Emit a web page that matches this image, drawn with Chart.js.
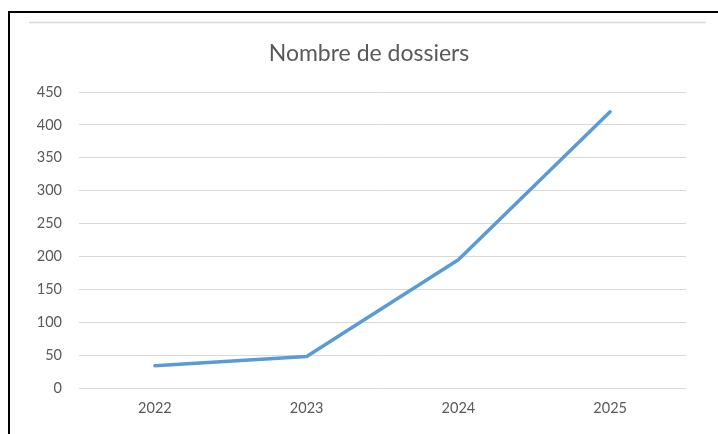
<!DOCTYPE html>
<html>
<head>
<meta charset="utf-8">
<script src="https://cdn.jsdelivr.net/npm/chart.js@4/dist/chart.umd.min.js"></script>
<style>
html,body{margin:0;padding:0;background:#fff;}
#wrap{width:718px;height:434px;position:relative;}
</style>
</head>
<body>
<div id="wrap"><canvas id="c" width="718" height="434"></canvas></div>
<script>
const categories = ["2022", "2023", "2024", "2025"];
const dossiers = [34, 48, 195, 420];
const yTicks = [0, 50, 100, 150, 200, 250, 300, 350, 400, 450];
const chartTitle = "Nombre de dossiers";

const frame = {
  id: 'frame',
  afterLayout(chart) {
    if (chart.titleBlock) {
      chart.titleBlock.left = 52;
      chart.titleBlock.right = 686;
    }
  },
  beforeDraw(chart) {
    const ctx = chart.ctx;
    ctx.save();
    ctx.fillStyle = '#fff';
    ctx.fillRect(0, 0, chart.width, chart.height);
    ctx.strokeStyle = '#000';
    ctx.lineWidth = 2;
    ctx.beginPath();
    ctx.moveTo(9, 434);
    ctx.lineTo(9, 12);
    ctx.lineTo(718, 12);
    ctx.stroke();
    ctx.strokeStyle = '#d9d9d9';
    ctx.lineWidth = 1.5;
    ctx.beginPath();
    ctx.moveTo(29, 22.5);
    ctx.lineTo(706, 22.5);
    ctx.stroke();
    ctx.restore();
  }
};

new Chart(document.getElementById('c'), {
  type: 'line',
  data: {
    labels: categories,
    datasets: [{
      data: dossiers,
      borderColor: '#5b9bd5',
      borderWidth: 3.5,
      borderCapStyle: 'round',
      borderJoinStyle: 'round',
      pointRadius: 0,
      tension: 0,
      fill: false
    }]
  },
  options: {
    responsive: false,
    animation: false,
    devicePixelRatio: 1,
    layout: { padding: { top: 0, left: 0, right: 32, bottom: 0 } },
    plugins: {
      legend: { display: false },
      tooltip: { enabled: false },
      title: {
        display: true,
        text: chartTitle,
        color: '#595959',
        font: { family: 'Lato', size: 23, weight: 'normal', lineHeight: 1.2 },
        padding: { top: 40, bottom: 24.4 }
      }
    },
    scales: {
      x: {
        offset: true,
        grid: { display: false, drawTicks: false, offset: true },
        border: { display: false },
        ticks: { color: '#595959', font: { family: 'Lato', size: 14.5 }, padding: 12, maxRotation: 0 },
        afterFit(s) { s.height = 46; }
      },
      y: {
        min: 0,
        max: 450,
        afterBuildTicks(s) { s.ticks = yTicks.map(v => ({ value: v })); },
        grid: { color: '#d9d9d9', lineWidth: 1, drawTicks: false },
        border: { display: false },
        ticks: { color: '#595959', font: { family: 'Lato', size: 14.5 }, padding: 17 },
        afterFit(s) { s.width = 79; }
      }
    }
  },
  plugins: [frame]
});
</script>
</body>
</html>
